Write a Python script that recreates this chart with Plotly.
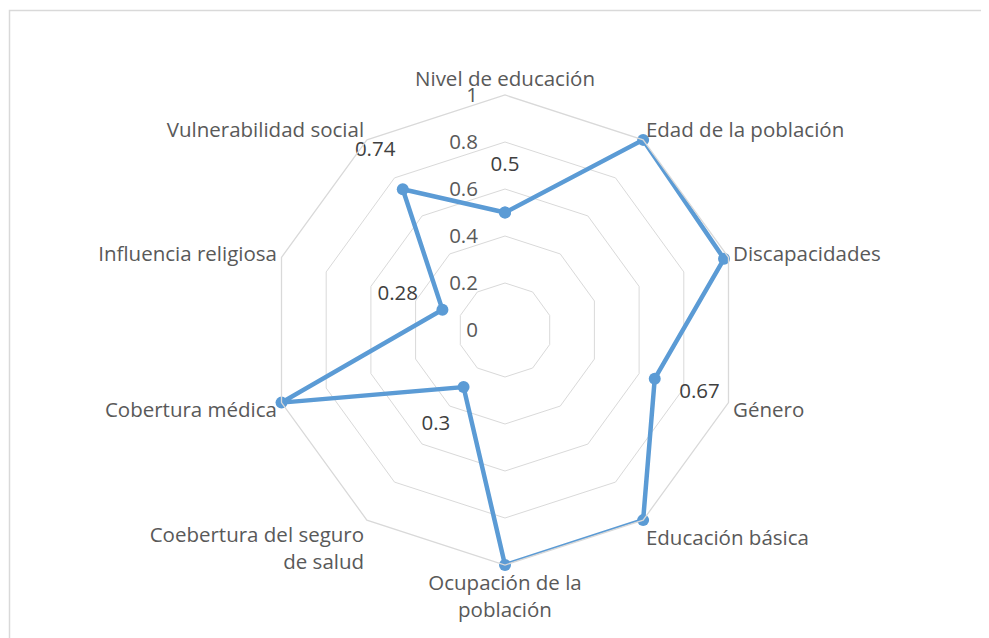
import plotly.graph_objects as go

categories = ["Nivel de educación", "Edad de la población", "Discapacidades", "Género",
              "Educación básica", "Ocupación de la<br>población", "Coebertura del seguro<br>de salud",
              "Cobertura médica", "Influencia religiosa", "Vulnerabilidad social"]
values = [0.5, 1, 0.98, 0.67, 1, 1, 0.3, 1, 0.28, 0.74]
value_labels = ["0.5", "1", "0.98", "0.67", "1", "1", "0.3", "1", "0.28", "0.74"]
radial_ticks = [0, 0.2, 0.4, 0.6, 0.8, 1]
radial_ticktext = ["0", "0.2", "0.4", "0.6", "0.8", "1"]

W, H = 989, 638
PAGE_OFF = 8
cx, cy, R = 505 - PAGE_OFF, 330 - PAGE_OFF, 235
LABEL_OFFSET = 0.2
FONT = "Open Sans"
FS = 20.5
GRAY = "#595959"
BLUE = "#5B9BD5"
# invisible padding that pushes the radial tick labels left of the axis
TICK_PAD = '<span style="color:rgba(0,0,0,0)">00</span>'

fig = go.Figure()
fig.add_trace(go.Scatterpolar(
    r=values + values[:1], theta=categories + categories[:1],
    mode="lines+markers",
    line=dict(color=BLUE, width=4.5),
    marker=dict(color=BLUE, size=12),
    hoverinfo="skip", showlegend=False, cliponaxis=False,
))
fig.add_trace(go.Scatterpolar(
    r=[v + LABEL_OFFSET for v in values], theta=categories,
    mode="text", text=value_labels,
    textfont=dict(family=FONT, size=FS, color="#404040"),
    textposition="middle center",
    hoverinfo="skip", showlegend=False, cliponaxis=False,
))

fig.update_layout(
    width=W, height=H,
    margin=dict(l=0, r=0, t=0, b=0),
    paper_bgcolor="white", plot_bgcolor="white",
    font=dict(family=FONT, size=FS, color=GRAY),
    polar=dict(
        domain=dict(x=[(cx - R) / W, (cx + R) / W], y=[(H - cy - R) / H, (H - cy + R) / H]),
        bgcolor="white",
        gridshape="linear",
        radialaxis=dict(
            range=[0, 1], tickvals=radial_ticks,
            ticktext=[t + TICK_PAD for t in radial_ticktext],
            angle=90, tickangle=90, side="counterclockwise",
            showline=False, ticks="", gridcolor="#D9D9D9", gridwidth=1.3,
            tickfont=dict(family=FONT, size=FS, color=GRAY),
        ),
        angularaxis=dict(
            rotation=90, direction="clockwise",
            showline=True, linecolor="#D9D9D9", linewidth=1.3,
            showgrid=False, ticks="",
            tickfont=dict(family=FONT, size=FS, color=GRAY),
        ),
    ),
    shapes=[dict(type="rect", xref="paper", yref="paper",
                 x0=1.5 / W, x1=1.02, y0=-0.05, y1=(H - 2.5) / H,
                 line=dict(color="#D9D9D9", width=1.5), fillcolor="rgba(0,0,0,0)")],
)

fig.write_html("out.html")
